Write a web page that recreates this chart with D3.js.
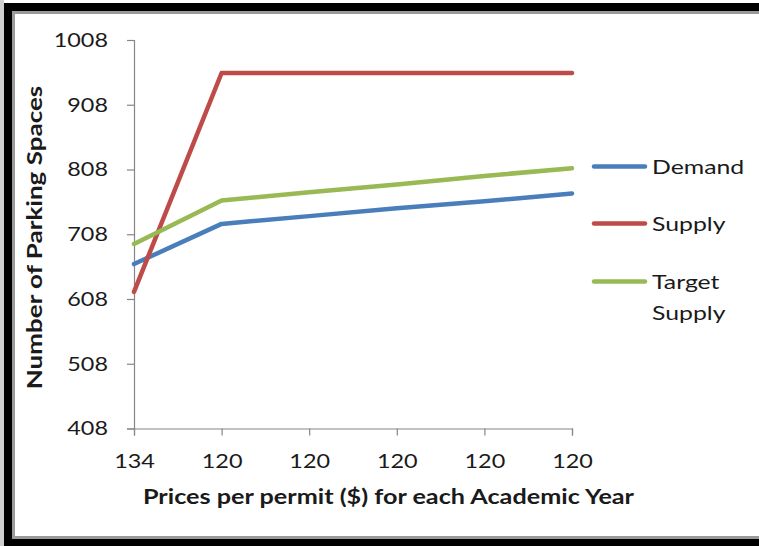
<!DOCTYPE html>
<html>
<head>
<meta charset="utf-8">
<script src="https://cdn.jsdelivr.net/npm/d3@7"></script>
<style>
  html, body { margin: 0; padding: 0; background: #fff; }
  svg { display: block; }
  text { font-family: Lato, "Open Sans", sans-serif; fill: #1a1a1a; }
</style>
</head>
<body>
<svg id="chart" width="759" height="546"></svg>
<script>
// Permit price per academic year (category labels)
const categories = ["134", "120", "120", "120", "120", "120"];

// Parking spaces per year
const demand = [662, 724, 736, 748, 759, 771];
const supply = [619, 957, 957, 957, 957, 957];
const targetSupply = [693, 760, 773, 785, 798, 810];

const yTicks = [408, 508, 608, 708, 808, 908, 1008];

const series = [
  { name: ["Demand"], values: demand, color: "#4a7ebb" },
  { name: ["Supply"], values: supply, color: "#be4b48" },
  { name: ["Target", "Supply"], values: targetSupply, color: "#98b954" }
];

const svg = d3.select("#chart");
const W = 759, H = 546;

// Frame: thin light edge, heavy black border, grey inner bevel
svg.append("rect").attr("x", 0).attr("y", 0).attr("width", W).attr("height", H).attr("fill", "#fff");
svg.append("rect").attr("x", 0).attr("y", 0).attr("width", 4).attr("height", H).attr("fill", "#cfcfcf");
svg.append("rect").attr("x", 4).attr("y", 3).attr("width", W - 4).attr("height", H - 3).attr("fill", "#000");
svg.append("rect").attr("x", 12).attr("y", 11).attr("width", W - 12).attr("height", 528).attr("fill", "#9a9a9a");
svg.append("rect").attr("x", 15).attr("y", 14).attr("width", W - 15).attr("height", 522).attr("fill", "#fff");

const x = d3.scalePoint().domain(d3.range(categories.length)).range([134, 572]);
const y = d3.scaleLinear().domain([408, 1008]).range([428.5, 40]);

// Stretch text horizontally to the wide chart lettering
function stretch(sel, k) {
  sel.each(function () {
    const w = this.getComputedTextLength();
    d3.select(this).attr("textLength", w * k).attr("lengthAdjust", "spacingAndGlyphs");
  });
}

const axisColor = "#868686";

// Y axis
const yAxis = svg.append("g").attr("transform", "translate(134,0)")
  .call(d3.axisLeft(y).tickValues(yTicks).tickSize(7).tickPadding(19).tickFormat(d3.format("d")));
yAxis.select(".domain").attr("stroke", axisColor).attr("stroke-width", 1.2);
yAxis.selectAll(".tick line").attr("stroke", axisColor).attr("stroke-width", 1.2);
yAxis.selectAll(".tick text").attr("font-size", 20).attr("font-family", "Lato, sans-serif").attr("fill", "#1a1a1a");
stretch(yAxis.selectAll(".tick text"), 1.17);

// X axis
const xAxis = svg.append("g").attr("transform", "translate(0,428.5)")
  .call(d3.axisBottom(x).tickSize(7).tickPadding(18).tickFormat(i => categories[i]));
xAxis.select(".domain").attr("stroke", axisColor).attr("stroke-width", 1.2);
xAxis.selectAll(".tick line").attr("stroke", axisColor).attr("stroke-width", 1.2);
xAxis.selectAll(".tick text").attr("font-size", 20).attr("font-family", "Lato, sans-serif").attr("fill", "#1a1a1a");
stretch(xAxis.selectAll(".tick text"), 1.17);

// Series lines
const line = d3.line().x((d, i) => x(i)).y(d => y(d));
svg.append("g").selectAll("path").data(series).join("path")
  .attr("d", s => line(s.values))
  .attr("fill", "none")
  .attr("stroke", s => s.color)
  .attr("stroke-width", 4.5)
  .attr("stroke-linejoin", "round")
  .attr("stroke-linecap", "round");

// Axis titles
const xt = svg.append("text").attr("x", 388.5).attr("y", 504)
  .attr("text-anchor", "middle").attr("font-size", 20).attr("font-weight", "bold")
  .text("Prices per permit ($) for each Academic Year");
stretch(xt, 1.26);

const yt = svg.append("text").attr("transform", "translate(42,237.5) rotate(-90)")
  .attr("text-anchor", "middle").attr("font-size", 20).attr("font-weight", "bold")
  .text("Number of Parking Spaces");
stretch(yt, 1.3);

// Legend
const legendY = [166.5, 223.5, 281.5];
const lg = svg.append("g").selectAll("g").data(series).join("g")
  .attr("transform", (s, i) => `translate(0,${legendY[i]})`);
lg.append("line").attr("x1", 594).attr("x2", 645).attr("y1", 0).attr("y2", 0)
  .attr("stroke", s => s.color).attr("stroke-width", 4.5).attr("stroke-linecap", "round");
lg.each(function (s) {
  const t = d3.select(this).append("text").attr("x", 652).attr("y", 7).attr("font-size", 20);
  s.name.forEach((n, j) => {
    t.append("tspan").attr("x", 652).attr("dy", j === 0 ? 0 : 31).text(n);
  });
});
lg.selectAll("tspan").each(function () {
  const w = this.getComputedTextLength();
  d3.select(this).attr("textLength", w * 1.24).attr("lengthAdjust", "spacingAndGlyphs");
});
</script>
</body>
</html>
